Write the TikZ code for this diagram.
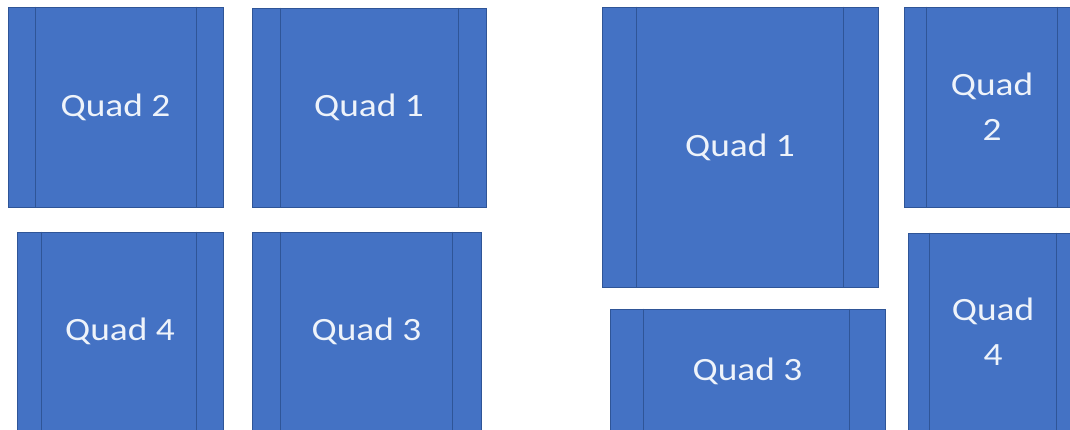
\documentclass[tikz,border=0pt]{standalone}
\usepackage{fontspec}
\newfontfamily\qfont[FakeStretch=1.15]{Carlito}
\definecolor{qblue}{HTML}{4472C4}
\definecolor{qedge}{HTML}{2F5597}
\definecolor{qtext}{HTML}{EEF3FA}
\tikzset{
  quad/.style={draw=qedge, fill=qblue, line width=0.9pt, inner sep=0pt,
    text=qtext, align=center, font={\qfont\fontsize{32.5}{45}\selectfont}},
  inner/.style={draw=qedge, line width=0.9pt}
}
\newcommand{\quadbox}[8]{%
  % #1 name, #2 x1, #3 y1, #4 x2, #5 y2, #6 left offset, #7 right offset, #8 text
  \node[quad, minimum width={(#4-#2)*1pt}, minimum height={(#5-#3)*1pt}]
    (#1) at ({(#2+#4)/2},{(#3+#5)/2}) {#8};
  \draw[inner] ([xshift=#6pt]#1.north west) -- ([xshift=#6pt]#1.south west);
  \draw[inner] ([xshift=-#7pt]#1.north east) -- ([xshift=-#7pt]#1.south east);
}
\begin{document}
\begin{tikzpicture}[x=1pt,y=-1pt]
\useasboundingbox (0,0) rectangle (1070,430);
\clip (0,0) rectangle (1070,430);
\fill[white] (0,0) rectangle (1070,430);
% left layout
\quadbox{lqtwo}{8}{7}{223}{207}{28}{27}{Quad 2}
\quadbox{lqone}{252}{8}{486}{207}{29}{28}{Quad 1}
\quadbox{lqfour}{17}{232}{223}{431}{25}{27}{Quad 4}
\quadbox{lqthree}{252}{232}{481}{431}{29}{29}{Quad 3}
% right layout
\quadbox{rqone}{602}{7}{878}{287}{35}{35}{Quad 1}
\quadbox{rqtwo}{904}{7}{1080}{207}{23}{23}{Quad\\2}
\quadbox{rqfour}{908}{233}{1078}{430}{22}{22}{Quad\\4}
\quadbox{rqthree}{610}{309}{885}{433}{34}{36}{Quad 3}
\end{tikzpicture}
\end{document}
